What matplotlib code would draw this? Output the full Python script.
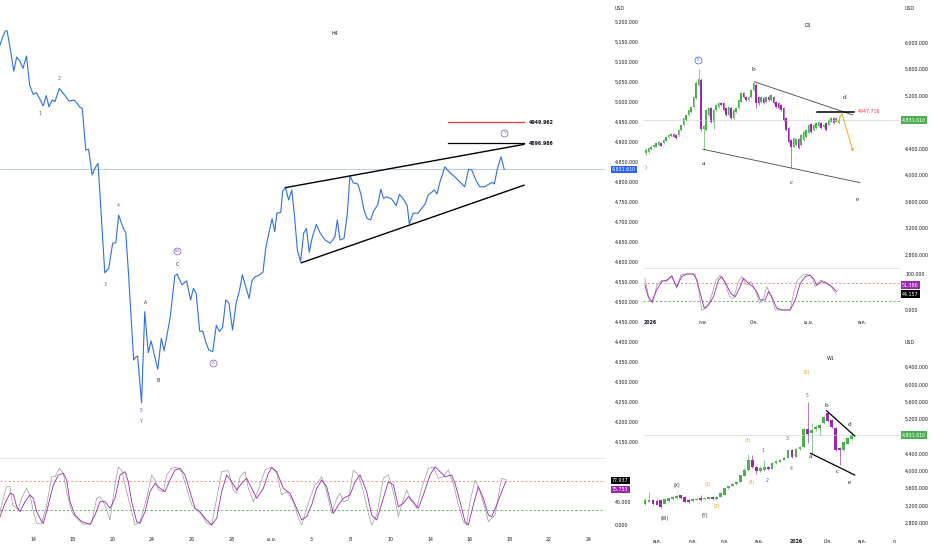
import numpy as np
import matplotlib
matplotlib.use("Agg")
import matplotlib.pyplot as plt
import matplotlib.font_manager as fm
from matplotlib.ft2font import FT2Font
from matplotlib.transforms import blended_transform_factory as blend

# ---------------- fonts (find one with Thai glyphs) ----------------
thai_fonts = []
for f in fm.fontManager.ttflist:
    try:
        cmap = FT2Font(f.fname).get_charmap()
        if 0x0E01 in cmap and 0x0E22 in cmap:
            thai_fonts.append(f.name)
    except Exception:
        pass
thai_fonts = sorted(set(thai_fonts))
preferred = ["Noto Sans Thai", "Noto Sans Thai UI", "Sarabun", "Prompt", "Kanit", "IBM Plex Sans Thai"]
thai_pick = [p for p in preferred if p in thai_fonts][:1] or thai_fonts[:1]
FAM = ["DejaVu Sans"] + thai_pick
plt.rcParams["font.family"] = FAM

# ---------------- H4 main chart data ----------------
h4_x = [-9.98, -9.14, -8.31, -7.83, -6.99, -5.80, -4.96, -4.00, -3.05, -1.97,
        -1.02, 0.06, 1.01, 1.97, 3.05, 4.00, 4.84, 5.79, 6.63, 7.95,
        9.38, 10.94, 12.37, 13.33, 14.16, 14.88, 15.96, 16.79, 17.87, 18.70,
        19.66, 21.69, 22.89, 24.08, 25.04, 25.88, 27.31, 28.03, 28.86, 30.42,
        31.02, 31.61, 32.81, 33.77, 34.84, 35.68, 36.64, 37.71, 38.79, 39.63,
        41.42, 42.85, 43.57, 45.00, 46.44, 47.63, 48.47, 49.31, 50.38, 51.34,
        52.17, 53.13, 54.33, 55.40, 56.36, 57.32, 58.27, 59.23, 60.31, 61.38,
        62.34, 63.29, 64.13, 65.33, 66.16, 67.12, 68.55, 69.51, 70.34, 71.54,
        72.26, 73.09, 73.69, 74.89, 75.48, 76.32, 77.28, 78.24, 79.07, 79.91,
        80.87, 81.82, 82.66, 83.50, 84.45, 85.65, 86.84, 88.28, 89.83, 91.27,
        91.98, 92.82, 94.02, 94.97, 95.81, 96.77, 98.20, 99.16, 99.99, 100.95,
        102.02, 102.98, 104.17, 105.13, 105.97, 106.92, 108.36, 109.79, 110.75, 111.94,
        113.14, 113.74, 114.94, 116.37, 117.32, 118.52, 119.48, 120.31, 121.27, 122.11,
        122.94, 124.50, 125.70, 127.49, 129.28, 130.48, 131.68, 132.63, 133.83, 135.03,
        136.46, 137.89, 138.85, 139.45, 140.40, 141.48, 142.44]
h4_price = [5142, 5163, 5178, 5178, 5138, 5077, 5112, 5103, 5084, 5115,
            5042, 5019, 5023, 5009, 4990, 5016, 4988, 5005, 5001, 5034,
            5019, 5002, 5005, 4997, 4987, 4984, 4880, 4882, 4818, 4834,
            4847, 4573, 4584, 4647, 4648, 4717, 4684, 4674, 4572, 4355,
            4362, 4365, 4248, 4476, 4373, 4403, 4369, 4332, 4409, 4378,
            4459, 4565, 4570, 4543, 4553, 4505, 4534, 4522, 4427, 4427,
            4401, 4380, 4376, 4442, 4426, 4437, 4505, 4497, 4430, 4497,
            4526, 4568, 4543, 4509, 4553, 4563, 4568, 4575, 4634, 4682,
            4708, 4676, 4722, 4724, 4778, 4786, 4755, 4780, 4712, 4630,
            4601, 4672, 4684, 4624, 4663, 4694, 4672, 4655, 4647, 4663,
            4705, 4655, 4659, 4718, 4816, 4798, 4795, 4768, 4732, 4709,
            4705, 4728, 4742, 4782, 4759, 4763, 4758, 4741, 4769, 4758,
            4740, 4695, 4722, 4722, 4732, 4745, 4768, 4773, 4780, 4770,
            4798, 4838, 4826, 4813, 4798, 4788, 4832, 4830, 4805, 4788,
            4788, 4795, 4799, 4795, 4834, 4863, 4831.61]
last_price = 4831.61
h4_xticks = [0, 12, 24, 36, 48, 60, 72, 84, 96, 108, 120, 132, 144, 156, 168]
h4_xlabels = ["14", "18", "20", "24", "26", "28", "เม.ย.", "3", "8", "10", "14", "16", "18", "22", "24"]
h4_yticks = list(range(4150, 5201, 50))
level_red = 4949.962
level_black = 4896.986
wedge_upper_x = [76.32, 148.4]
wedge_upper_y = [4786, 4894]
wedge_lower_x = [81.1, 148.4]
wedge_lower_y = [4598, 4792]
level_x = [125.4, 148.4]

# wave labels H4: (x, price, text, kind)
h4_waves = [(2.1, 4972, "1", "num0"), (7.9, 5060, "2", "num"), (21.8, 4545, "3", "num"),
            (25.7, 4742, "4", "num"), (33.9, 4500, "A", "let"), (32.6, 4228, "5", "num5"),
            (32.6, 4202, "Y", "red"), (37.8, 4305, "B", "let"), (43.5, 4595, "C", "let")]
h4_circles = [(43.5, 4627, "W"), (54.4, 4347, "X"), (142.4, 4922, "Y")]

# H4 stochastic
stk_x = [-9.98, -8.97, -7.97, -6.96, -6.15, -4.44, -3.43, -1.92, -0.91, 0.10,
         1.10, 2.62, 4.13, 5.64, 6.65, 7.96, 9.17, 10.17, 11.69, 13.2,
         15.21, 17.73, 19.24, 20.25, 21.26, 22.27, 23.27, 24.78, 25.79, 26.8,
         28.31, 29.82, 30.83, 32.34, 34.36, 35.87, 36.88, 37.89, 39.4, 40.41,
         41.92, 43.43, 44.94, 46.45, 47.96, 49.48, 50.99, 52.5, 54.01, 55.52,
         57.03, 59.05, 60.56, 61.57, 62.58, 64.09, 65.09, 66.61, 68.12, 70.13,
         72.15, 73.66, 75.17, 76.68, 78.7, 80.21, 81.22, 82.73, 83.74, 85.24,
         86.25, 87.26, 88.77, 90.28, 91.79, 92.8, 93.81, 95.32, 96.83, 98.34,
         99.86, 101.37, 102.38, 103.89, 105.9, 107.41, 108.93, 110.44, 111.44, 112.96,
         114.47, 115.98, 117.49, 119.51, 121.02, 122.53, 124.04, 125.55, 127.06, 128.58,
         130.09, 131.1, 132.1, 133.62, 135.13, 136.64, 137.65, 139.66, 141.17, 141.68, 142.98]
stk_k = [23.0, 46.0, 66.1, 66.1, 34.5, 25.9, 46.0, 63.2, 51.7, 23.0,
         2.9, 2.9, 34.5, 83.3, 83.3, 97.7, 89.1, 57.5, 23.0, 11.5,
         1.1, 2.9, 46.0, 48.9, 40.2, 25.9, 8.6, 69.0, 100, 94.8,
         57.5, 23.0, 0, 5.7, 46.0, 86.2, 77.6, 60.3, 57.5, 86.2,
         97.7, 100, 92.0, 63.2, 34.5, 25.9, 17.2, 2.9, 0, 46.0,
         92.0, 93.7, 60.3, 54.6, 83.3, 92.0, 63.2, 40.2, 60.3, 94.8,
         100, 89.1, 51.7, 57.5, 40.2, 11.5, 0, 28.7, 46.0, 69.0,
         74.7, 83.3, 57.5, 20.1, 46.0, 54.6, 40.2, 43.1, 94.8, 86.2,
         57.5, 20.1, 0, 17.2, 80.5, 86.2, 57.5, 14.4, 34.5, 60.3,
         40.2, 28.7, 63.2, 97.7, 100, 80.5, 83.3, 94.8, 71.8, 34.5,
         5.7, 0, 40.2, 77.6, 57.5, 28.7, 5.7, 17.2, 66.1, 80.5, 77.937]
std_x = [-9.98, -8.47, -6.96, -5.95, -4.94, -3.93, -2.42, -0.91, 0.10, 1.10,
         2.62, 3.12, 4.63, 6.14, 7.66, 9.17, 10.17, 11.18, 12.69, 14.71,
         17.23, 18.74, 20.25, 21.76, 23.27, 24.78, 26.3, 27.81, 28.82, 29.82,
         31.34, 32.34, 33.85, 35.37, 36.88, 38.39, 39.9, 41.41, 42.92, 44.44,
         45.95, 47.46, 48.97, 50.48, 51.99, 54.01, 55.52, 57.03, 58.54, 60.06,
         61.57, 63.08, 64.59, 66.1, 67.61, 69.63, 71.14, 72.15, 73.66, 75.67,
         77.69, 79.7, 81.22, 82.73, 83.74, 84.24, 85.75, 87.26, 88.77, 90.79,
         92.3, 93.81, 95.83, 97.34, 98.85, 100.86, 102.38, 103.89, 105.9, 107.41,
         108.93, 110.44, 111.95, 113.46, 114.97, 116.48, 117.99, 120.01, 121.52, 123.03,
         124.54, 126.55, 127.57, 129.08, 130.59, 131.6, 133.11, 134.62, 136.13, 137.65,
         138.65, 140.16, 141.68, 142.98]
std_d = [14.4, 37.4, 54.6, 52.9, 31.6, 23.0, 40.2, 51.7, 46.0, 23.0,
         5.7, 2.9, 34.5, 69.0, 86.2, 89.1, 77.6, 40.2, 17.2, 5.7,
         1.1, 17.2, 40.2, 40.2, 28.7, 46.0, 86.2, 92.0, 74.7, 40.2,
         5.7, 2.9, 23.0, 57.5, 71.8, 63.2, 57.5, 77.6, 94.8, 97.7,
         86.2, 57.5, 28.7, 23.0, 11.5, 0, 11.5, 57.5, 86.2, 74.7,
         60.3, 71.8, 80.5, 63.2, 46.0, 63.2, 89.1, 98.9, 92.0, 63.2,
         54.6, 28.7, 8.6, 14.4, 28.7, 34.5, 63.2, 77.6, 66.1, 20.1,
         34.5, 46.0, 51.7, 74.7, 86.2, 57.5, 17.2, 8.6, 46.0, 74.7,
         69.0, 31.6, 37.4, 48.9, 40.2, 28.7, 51.7, 86.2, 100, 92.0,
         83.3, 86.2, 71.8, 40.2, 5.7, 0, 34.5, 66.1, 46.0, 17.2,
         14.4, 34.5, 57.5, 75.753]
stoch_hi, stoch_lo = 75, 25

# ---------------- D1 data ----------------
d_open = [4331, 4356, 4391, 4421, 4431, 4456, 4491, 4482, 4522, 4572,
          4592, 4617, 4607, 4607, 4683, 4758, 4834, 4909, 4960, 5035,
          5160, 5362, 5437, 4700, 4683, 4909, 5010, 4809, 4985, 5035,
          5085, 5085, 5010, 4909, 5010, 4859, 4960, 5010, 5110, 5246,
          5186, 5136, 5186, 5286, 5362, 5186, 5110, 5160, 5110, 5186,
          5136, 5186, 5110, 5085, 5060, 5010, 4859, 4708, 4532, 4431,
          4456, 4542, 4456, 4532, 4582, 4632, 4773, 4683, 4708, 4743,
          4783, 4733, 4783, 4758, 4809, 4859, 4809, 4790]
d_high = [4406, 4420, 4450, 4470, 4495, 4520, 4505, 4545, 4585, 4625,
          4640, 4635, 4620, 4695, 4770, 4870, 4925, 5000, 5050, 5200,
          5420, 5598, 5470, 4760, 5000, 5030, 5030, 5000, 5075, 5100,
          5110, 5100, 5025, 5040, 5025, 5000, 5025, 5150, 5250, 5260,
          5200, 5200, 5300, 5412, 5390, 5200, 5200, 5180, 5190, 5210,
          5225, 5200, 5125, 5100, 5075, 5025, 4875, 4725, 4550, 4575,
          4560, 4560, 4625, 4675, 4700, 4775, 4790, 4775, 4800, 4825,
          4800, 4775, 4800, 4850, 4875, 4875, 4870, 4900]
d_low = [4306, 4340, 4380, 4405, 4420, 4445, 4435, 4470, 4510, 4560,
         4580, 4570, 4540, 4595, 4670, 4745, 4820, 4895, 4945, 5020,
         5150, 5340, 4660, 4381, 4660, 4890, 4790, 4700, 4970, 5020,
         5045, 4970, 4895, 4890, 4845, 4845, 4945, 4995, 5100, 5160,
         5120, 5120, 5170, 5270, 5020, 5060, 5095, 5070, 5095, 5120,
         5120, 5070, 5020, 4995, 4970, 4815, 4660, 4480, 4104, 4410,
         4440, 4390, 4440, 4515, 4565, 4615, 4640, 4665, 4690, 4730,
         4690, 4715, 4665, 4740, 4795, 4770, 4795, 4775]
d_close = [4381, 4406, 4431, 4456, 4482, 4507, 4446, 4532, 4572, 4607,
           4622, 4582, 4557, 4683, 4758, 4859, 4909, 4985, 5035, 5186,
           5387, 5447, 4700, 4740, 4985, 5010, 4809, 4985, 5060, 5085,
           5060, 4985, 4909, 5025, 4859, 4985, 5010, 5136, 5236, 5176,
           5136, 5186, 5286, 5387, 5085, 5085, 5186, 5085, 5176, 5136,
           5211, 5085, 5035, 5010, 4985, 4834, 4683, 4507, 4431, 4557,
           4542, 4406, 4607, 4658, 4683, 4758, 4658, 4758, 4783, 4809,
           4708, 4758, 4683, 4834, 4859, 4783, 4859, 4831.61]
d1_yticks = [2800, 3200, 3600, 4000, 4400, 5200, 5600, 6000]
d1_xticks = [1.6, 22.8, 43.2, 65.2, 86.4]
d1_xlabels = ["2026", "ก.พ.", "มี.ค.", "เม.ย.", "พ.ค."]
d1_tri_lower_x = [22.8, 85.6]
d1_tri_lower_y = [4391, 3887]
d1_tri_upper_x = [43.3, 82.7]
d1_tri_upper_y = [5411, 4909]
d1_level = 4947.716
d1_level_x = [68.3, 83.0]
d1_level_y = 4959
d1_proj_x = [76.9, 78.3, 82.9]
d1_proj_y = [4808, 4934, 4355]
d1_waves = [(22.9, 4180, "a"), (43.2, 5598, "b"), (58.3, 3887, "c"), (79.6, 5170, "d"), (84.5, 3626, "e")]
d1_k_x = [-0.4, 0.9, 2.3, 4.3, 6.3, 8.3, 10.3, 12.3, 14.3, 16.3, 19, 20.3, 21.7, 23.3, 25, 27, 29, 30.3,
          32.3, 33.9, 35.7, 37.7, 39, 41, 42.7, 44.3, 45.7, 47.7, 49, 50.3, 52.3, 54.3, 57.7, 59.7,
          61.7, 63.7, 65.5, 67, 68.3, 70.3, 72.3, 74.3, 76.3]
d1_k = [69, 37, 23, 56, 79, 83, 93, 65, 93, 100, 100, 83, 46, 5, 14, 37, 83, 93, 69, 46, 37, 65, 88,
        74, 65, 51, 28, 28, 51, 37, 5, 0, 0, 28, 74, 93, 97, 88, 69, 79, 74, 65, 51.386]
d1_d_x = [-0.4, 1.3, 2.7, 4.3, 6.3, 8.3, 10.3, 12.3, 13.9, 15.7, 19.7, 21, 22.3, 24, 25.9, 28, 29.7,
          31.7, 33.4, 35, 37, 38.3, 40.3, 41.9, 43.7, 45.4, 47, 48.3, 49.9, 51.7, 57.7, 59, 60.6,
          62.7, 64.3, 66.3, 67.7, 69.7, 71.7, 73.7, 76.1]
d1_d = [88, 28, 19, 69, 83, 79, 97, 60, 97, 100, 100, 60, 0, 5, 32, 83, 97, 74, 37, 32, 79, 93, 69,
        79, 56, 19, 32, 65, 42, 0, 0, 46, 83, 97, 100, 93, 65, 83, 79, 69, 44.157]

# ---------------- W1 data ----------------
w_open = [3230, 3290, 3325, 3310, 3325, 3240, 3300, 3340, 3360, 3440,
          3400, 3330, 3300, 3330, 3360, 3340, 3350, 3395, 3345, 3400,
          3440, 3594, 3648, 3690, 3750, 3880, 4018, 4249, 4080, 4000,
          4030, 4085, 4050, 4170, 4210, 4260, 4300, 4480, 4330, 4500,
          4560, 4960, 4870, 4960, 4990, 5097, 5344, 5174, 5000, 4520,
          4470, 4630, 4740]
w_high = [3360, 3500, 3350, 3340, 3340, 3360, 3380, 3420, 3440, 3450,
          3410, 3350, 3360, 3370, 3450, 3380, 3400, 3410, 3410, 3500,
          3600, 3660, 3720, 3760, 3910, 4060, 4380, 4365, 4100, 4100,
          4240, 4100, 4200, 4240, 4270, 4320, 4480, 4500, 4520, 4580,
          5000, 5595, 5100, 5050, 5080, 5260, 5390, 5200, 5020, 4560,
          4690, 4780, 4890]
w_low = [3210, 3270, 3220, 3200, 3130, 3225, 3290, 3330, 3350, 3350,
         3280, 3260, 3290, 3320, 3300, 3320, 3340, 3330, 3335, 3390,
         3430, 3580, 3640, 3680, 3740, 3870, 4000, 4060, 3930, 3970,
         4000, 4030, 4040, 4160, 4200, 4250, 4290, 4300, 4320, 4490,
         4550, 4640, 4400, 4930, 4830, 5080, 5140, 4990, 4460, 4130,
         4450, 4610, 4720]
w_close = [3330, 3320, 3240, 3210, 3170, 3340, 3360, 3400, 3420, 3360,
           3290, 3270, 3340, 3350, 3330, 3365, 3385, 3340, 3400, 3490,
           3594, 3648, 3700, 3750, 3900, 4018, 4249, 4095, 3990, 4060,
           4080, 4050, 4180, 4220, 4260, 4300, 4470, 4330, 4500, 4560,
           4960, 4860, 4950, 5020, 5060, 5251, 5159, 5020, 4480, 4470,
           4660, 4750, 4831.61]
w1_yticks = [2800, 3200, 3600, 4000, 4400, 5200, 5600, 6000, 6400]
w1_xticks = [3.0, 12.1, 20.1, 28.7, 38.0, 46.0, 54.8, 62.9]
w1_xlabels = ["พ.ค.", "ก.ค.", "ก.ย.", "พ.ย.", "2026", "มี.ค.", "พ.ค.", "ก."]
w1_tri_upper_x = [45.7, 52.8]
w1_tri_upper_y = [5390, 4805]
w1_tri_lower_x = [41.7, 52.8]
w1_tri_lower_y = [4404, 3903]
w1_waves = [(8.1, 3649, "(X)", "k"), (5.0, 2902, "(W)", "k"), (15.0, 2978, "(Y)", "k"),
            (15.8, 3672, "(1)", "o"), (18.1, 3186, "(2)", "o"), (25.8, 4696, "(3)", "o"),
            (26.8, 3734, "(4)", "o"), (40.8, 6268, "(5)", "o"),
            (29.8, 4458, "1", "b"), (30.8, 3787, "2", "b"), (35.7, 4751, "3", "b"),
            (36.7, 4042, "4", "b"), (40.7, 5737, "5", "b")]
w1_letters = [(41.7, 4342, "a"), (45.7, 5521, "b"), (48.5, 3980, "c"), (51.5, 5082, "d"), (51.5, 3741, "e")]

# ---------------- styling ----------------
W, H = 932, 550
TXT = "#131722"
FS = 3.4
GREEN, PURPLE = "#4caf50", "#9c27b0"
BLUE = "#2f6fe4"
fig = plt.figure(figsize=(W / 100, H / 100), dpi=100)
fig.patch.set_facecolor("white")


def add_axes(x0, y0, x1, y1):
    return fig.add_axes([x0 / W, 1 - y1 / H, (x1 - x0) / W, (y1 - y0) / H])


def clean(ax):
    for s in ax.spines.values():
        s.set_visible(False)
    ax.set_facecolor("white")
    ax.tick_params(length=0, labelsize=FS, colors=TXT)


def right_labels(ax, ticks, pad_px):
    ax.yaxis.tick_right()
    ax.set_yticks(ticks)
    ax.set_yticklabels([f"{t:,.3f}" for t in ticks])
    ax.tick_params(axis="y", length=0, pad=pad_px * 0.72, labelsize=FS, labelcolor=TXT)


def tag(ax, xa, y, text, fc, tc="white"):
    ax.text(xa, y, text, transform=blend(ax.transAxes, ax.transData), fontsize=FS, color=tc,
            va="center", ha="left", clip_on=False,
            bbox=dict(boxstyle="square,pad=0.25", fc=fc, ec="none"))


def candles(ax, o, h, l, c, width, minh):
    o, h, l, c = map(np.asarray, (o, h, l, c))
    idx = np.arange(len(o))
    cols = np.where(c >= o, GREEN, PURPLE)
    ax.vlines(idx, l, h, colors=cols, lw=0.45)
    body = np.maximum(np.abs(c - o), minh)
    ax.bar(idx, body, bottom=np.minimum(o, c), width=width, color=cols, edgecolor="none")


def circ(ax, x, y, t, color, ms=5.0, fs=3.0):
    ax.plot([x], [y], "o", ms=ms, mfc="none", mec=color, mew=0.5)
    ax.text(x, y, t, ha="center", va="center", fontsize=fs, color=color)


# ---------------- H4 price ----------------
ax = add_axes(0, 0, 605, 458)
clean(ax)
ax.set_xlim(-9.98, 172.9)
ax.set_ylim(4110, 5255)
ax.set_xticks([])
right_labels(ax, h4_yticks, 10)
ax.axhline(last_price, color="#9db8f2", lw=0.5)
ax.plot(h4_x, h4_price, color=BLUE, lw=0.8)
ax.plot(wedge_upper_x, wedge_upper_y, color="black", lw=1.0)
ax.plot(wedge_lower_x, wedge_lower_y, color="black", lw=1.0)
ax.plot(level_x, [level_red, level_red], color="#f23645", lw=0.9)
ax.plot(level_x, [level_black, level_black], color="black", lw=0.9)
ax.text(149.8, level_red, f"{level_red:.3f}", fontsize=FS, fontweight="bold", va="center", color=TXT)
ax.text(149.8, level_black, f"{level_black:.3f}", fontsize=FS, fontweight="bold", va="center", color=TXT)
ax.text(91.3, 5172, "H4", fontsize=FS, ha="center", va="center", color=TXT)
wave_col = {"num0": "#555566", "num": "#6a5aa8", "num5": "#5a5ad0", "let": "#222222", "red": "#e91e63"}
for x, y, t, k in h4_waves:
    ax.text(x, y, t, fontsize=3.3, ha="center", va="center", color=wave_col[k])
for x, y, t in h4_circles:
    circ(ax, x, y, t, "#7e57c2")
tag(ax, 612 / 605, last_price, f"{last_price:,.3f}", "#2962ff")
fig.text(615 / W, 1 - 9 / H, "USD", fontsize=FS, va="center", color=TXT)

# ---------------- H4 stochastic ----------------
axs = add_axes(0, 458, 605, 532)
clean(axs)
axs.spines["top"].set_visible(True)
axs.spines["top"].set_color("#e0e3eb")
axs.spines["top"].set_linewidth(0.6)
axs.set_xlim(-9.98, 172.9)
axs.set_ylim(-12.1, 115.5)
axs.axhline(stoch_hi, color="#f28080", lw=0.6, ls=(0, (2.5, 2.5)))
axs.axhline(stoch_lo, color="#5aa55a", lw=0.6, ls=(0, (2.5, 2.5)))
axs.plot(stk_x, stk_k, color="#9a9a9a", lw=0.5)
axs.plot(std_x, std_d, color=PURPLE, lw=0.6)
right_labels(axs, [0, 40], 10)
axs.set_xticks(h4_xticks)
axs.set_xticklabels(h4_xlabels)
axs.tick_params(axis="x", length=0, pad=3.5, labelsize=FS, labelcolor=TXT)
tag(axs, 612 / 605, 77.0, f"{stk_k[-1]:.3f}", "black")
tag(axs, 612 / 605, 61.0, f"{std_d[-1]:.3f}", PURPLE)

# ---------------- D1 inset ----------------
axd = add_axes(643, 0, 900, 266)
clean(axd)
axd.set_xlim(-1.2, 101.6)
axd.set_ylim(2629, 6644)
axd.set_xticks([])
right_labels(axd, d1_yticks, 5)
axd.axhline(last_price, color="#d6d8de", lw=0.5)
candles(axd, d_open, d_high, d_low, d_close, 0.7, 8)
axd.plot(d1_tri_lower_x, d1_tri_lower_y, color="#444444", lw=0.6)
axd.plot(d1_tri_upper_x, d1_tri_upper_y, color="#444444", lw=0.6)
axd.plot(d1_level_x, [d1_level_y, d1_level_y], color="black", lw=1.1)
axd.text(84.8, d1_level_y, f"{d1_level:.3f}", fontsize=FS, color="#f23645", va="center")
axd.plot(d1_proj_x[:2], d1_proj_y[:2], color="#f5a623", lw=0.7)
axd.annotate("", xy=(d1_proj_x[2], d1_proj_y[2]), xytext=(d1_proj_x[1], d1_proj_y[1]),
             arrowprops=dict(arrowstyle="-|>", color="#f5a623", lw=0.7, mutation_scale=3.5,
                             shrinkA=0, shrinkB=0))
for x, y, t in d1_waves:
    axd.text(x, y, t, fontsize=5.2, family="Liberation Serif", ha="center", va="center", color="#222222")
axd.text(64.7, 6257, "D1", fontsize=FS, ha="center", va="center", color=TXT)
circ(axd, 20.9, 5739, "5", "#2962ff", ms=5.0, fs=3.2)
tag(axd, (902 - 643) / 257, last_price, f"{last_price:,.3f}", GREEN)
fig.text(905 / W, 1 - 9 / H, "USD", fontsize=FS, va="center", color=TXT)
fig.text(645 / W, 1 - 167 / H, ")", fontsize=3.6, va="center", color="#2962ff")

axds = add_axes(643, 268, 900, 318)
clean(axds)
axds.spines["top"].set_visible(True)
axds.spines["top"].set_color("#e0e3eb")
axds.spines["top"].set_linewidth(0.6)
axds.set_xlim(-1.2, 101.6)
axds.set_ylim(-22.2, 116.7)
axds.axhline(stoch_hi, color="#f28080", lw=0.6, ls=(0, (2.5, 2.5)))
axds.axhline(stoch_lo, color="#5aa55a", lw=0.6, ls=(0, (2.5, 2.5)))
axds.plot(d1_d_x, d1_d, color="#9a9a9a", lw=0.5)
axds.plot(d1_k_x, d1_k, color=PURPLE, lw=0.6)
right_labels(axds, [0, 100], 5)
axds.set_xticks(d1_xticks)
axds.set_xticklabels(d1_xlabels)
axds.tick_params(axis="x", length=0, pad=1.2, labelsize=FS, labelcolor=TXT)
axds.get_xticklabels()[0].set_fontweight("bold")
tag(axds, (902 - 643) / 257, 69, f"{d1_k[-1]:.3f}", PURPLE)
tag(axds, (902 - 643) / 257, 44, f"{d1_d[-1]:.3f}", "black")

# ---------------- W1 inset ----------------
axw = add_axes(643, 352, 900, 532)
clean(axw)
axw.set_xlim(-0.5, 64.2)
axw.set_ylim(2585, 6747)
right_labels(axw, w1_yticks, 5)
axw.set_xticks(w1_xticks)
axw.set_xticklabels(w1_xlabels)
axw.tick_params(axis="x", length=0, pad=5, labelsize=FS, labelcolor=TXT)
axw.get_xticklabels()[4].set_fontweight("bold")
axw.axhline(last_price, color="#d6d8de", lw=0.5)
candles(axw, w_open, w_high, w_low, w_close, 0.7, 15)
axw.plot(w1_tri_upper_x, w1_tri_upper_y, color="black", lw=0.9)
axw.plot(w1_tri_lower_x, w1_tri_lower_y, color="black", lw=0.9)
wcol = {"k": "#222222", "o": "#f0a020", "b": "#4a5ae0"}
for x, y, t, k in w1_waves:
    axw.text(x, y, t, fontsize=3.3, ha="center", va="center", color=wcol[k])
for x, y, t in w1_letters:
    axw.text(x, y, t, fontsize=5.2, family="Liberation Serif", ha="center", va="center", color="#222222")
axw.text(46.7, 6601, "W1", fontsize=FS, ha="center", va="center", color=TXT)
tag(axw, (902 - 643) / 257, last_price, f"{last_price:,.3f}", GREEN)
fig.text(905 / W, 1 - 343 / H, "USD", fontsize=FS, va="center", color=TXT)

fig.savefig("out.png", dpi=100, facecolor="white")
